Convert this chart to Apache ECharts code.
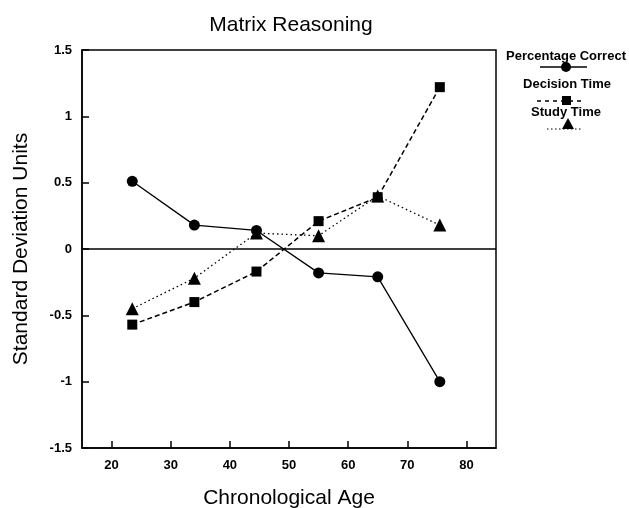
<!DOCTYPE html>
<html>
<head>
<meta charset="utf-8">
<script src="https://cdn.jsdelivr.net/npm/echarts@6/dist/echarts.min.js"></script>
<style>
    html, body { margin: 0; padding: 0; background: #fff; }
    #chart { width: 629px; height: 508px; }
</style>
</head>
<body>
<div id="chart"></div>
<script>
    // ages on the x axis
    const ages = [23.5, 34, 44.5, 55, 65, 75.5];
    const percentageCorrect = [0.51, 0.18, 0.14, -0.18, -0.21, -1.0];
    const decisionTime = [-0.57, -0.40, -0.17, 0.21, 0.39, 1.22];
    const studyTime = [-0.45, -0.22, 0.12, 0.10, 0.40, 0.18];
    const xTicks = [20, 30, 40, 50, 60, 70, 80];

    const pairs = (ys) => ages.map((a, i) => [a, ys[i]]);
    const font = 'Liberation Sans, Arial, sans-serif';

    let myChart = echarts.init(document.getElementById('chart'));
    myChart.setOption({
        animation: false,
        title: {
            text: 'Matrix Reasoning',
            left: 286,
            textAlign: 'center',
            top: 10,
            textStyle: { fontFamily: font, fontSize: 21, fontWeight: 'normal', color: '#000' }
        },
        grid: {
            left: 82,
            right: 133,
            top: 50,
            bottom: 60,
            outerBoundsMode: 'none',
            show: true,
            borderColor: '#000',
            borderWidth: 1.5
        },
        xAxis: {
            type: 'value',
            min: 15,
            max: 85,
            name: 'Chronological Age',
            nameLocation: 'middle',
            nameGap: 40,
            nameTextStyle: { fontFamily: font, fontSize: 21, color: '#000' },
            axisLine: { onZero: false, lineStyle: { color: '#000', width: 1.5 } },
            axisTick: { inside: true, length: 7, customValues: xTicks, lineStyle: { color: '#000', width: 1.5 } },
            axisLabel: { customValues: xTicks, fontFamily: font, fontSize: 13, fontWeight: 'bold', color: '#000', margin: 11 },
            splitLine: { show: false }
        },
        yAxis: {
            type: 'value',
            min: -1.5,
            max: 1.5,
            interval: 0.5,
            name: 'Standard Deviation Units',
            nameLocation: 'middle',
            nameGap: 50,
            nameTextStyle: { fontFamily: font, fontSize: 21, color: '#000' },
            axisLine: { show: true, onZero: false, lineStyle: { color: '#000', width: 1.5 } },
            axisTick: { show: true, inside: true, length: 7, lineStyle: { color: '#000', width: 1.5 } },
            axisLabel: { fontFamily: font, fontSize: 13, fontWeight: 'bold', color: '#000', margin: 10 },
            splitLine: { show: false }
        },
        series: [
            {
                name: 'Percentage Correct',
                type: 'line',
                data: pairs(percentageCorrect),
                symbol: 'circle',
                symbolSize: 11,
                itemStyle: { color: '#000' },
                lineStyle: { color: '#000', width: 1.3 },
                markLine: {
                    silent: true,
                    symbol: 'none',
                    label: { show: false },
                    lineStyle: { color: '#000', type: 'solid', width: 1.5 },
                    data: [{ yAxis: 0 }]
                }
            },
            {
                name: 'Decision Time',
                type: 'line',
                data: pairs(decisionTime),
                symbol: 'rect',
                symbolSize: 10,
                itemStyle: { color: '#000' },
                lineStyle: { color: '#000', width: 1.5, type: [5, 3] }
            },
            {
                name: 'Study Time',
                type: 'line',
                data: pairs(studyTime),
                symbol: 'triangle',
                symbolSize: 13,
                itemStyle: { color: '#000' },
                lineStyle: { color: '#000', width: 1.3, type: [1.5, 3] }
            }
        ],
        graphic: [
            { type: 'text', x: 566, y: 56, style: { text: 'Percentage Correct', font: 'bold 13px ' + font, fill: '#000', align: 'center', verticalAlign: 'middle' } },
            { type: 'line', shape: { x1: 540, y1: 67, x2: 587, y2: 67 }, style: { stroke: '#000', lineWidth: 1.3 } },
            { type: 'circle', shape: { cx: 566, cy: 67, r: 5 }, style: { fill: '#000' } },
            { type: 'text', x: 567, y: 84, style: { text: 'Decision Time', font: 'bold 13px ' + font, fill: '#000', align: 'center', verticalAlign: 'middle' } },
            { type: 'line', shape: { x1: 537, y1: 101, x2: 584, y2: 101 }, style: { stroke: '#000', lineWidth: 1.5, lineDash: [4, 4] } },
            { type: 'rect', shape: { x: 562, y: 96, width: 9, height: 9 }, style: { fill: '#000' } },
            { type: 'text', x: 566, y: 112, style: { text: 'Study Time', font: 'bold 13px ' + font, fill: '#000', align: 'center', verticalAlign: 'middle' } },
            { type: 'line', shape: { x1: 547, y1: 129, x2: 581, y2: 129 }, style: { stroke: '#000', lineWidth: 1.2, lineDash: [1.5, 2.5] } },
            { type: 'polygon', shape: { points: [[568, 118], [562, 129], [574, 129]] }, style: { fill: '#000' } }
        ]
    });
</script>
</body>
</html>
